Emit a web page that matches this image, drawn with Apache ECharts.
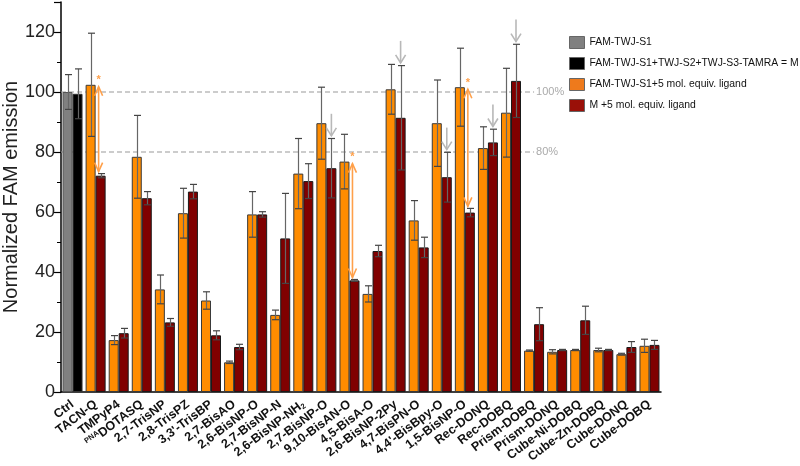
<!DOCTYPE html>
<html><head><meta charset="utf-8">
<script src="https://cdn.jsdelivr.net/npm/echarts@6/dist/echarts.min.js"></script>
<style>html,body{margin:0;padding:0;background:#fff}#c{width:800px;height:466px}</style>
</head><body><div id="c"></div>
<script>
const categories = ['Ctrl','TACN-Q','TMPyP4','PNA DOTASQ','2,7-TrisNP','2,8-TrisPZ',"3,3'-TrisBP",'2,7-BisAO','2,6-BisNP-O','2,7-BisNP-N','2,6-BisNP-NH2','2,7-BisNP-O','9,10-BisAN-O','4,5-BisA-O','2,6-BisNP-2Py','4,7-BisPN-O',"4,4'-BisBpy-O",'1,5-BisNP-O','Rec-DONQ','Rec-DOBQ','Prism-DOBQ','Prism-DONQ','Cube-Ni-DOBQ','Cube-Zn-DOBQ','Cube-DONQ','Cube-DOBQ'];
const seriesNames = ['FAM-TWJ-S1','FAM-TWJ-S1+TWJ-S2+TWJ-S3-TAMRA = M','FAM-TWJ-S1+5 mol. equiv. ligand','M +5 mol. equiv. ligand'];
// Ctrl only
const famValues = [100];
const famErr = [5.8];
const mValues = [99.4];
const mErr = [8.3];
// ligands (categories 1..25)
const ligValues = [102.4,17.3,78.4,34.2,59.6,30.5,9.9,59.2,25.7,72.8,89.6,76.8,32.7,100.9,57.2,89.6,101.6,81.3,93.1,13.8,13.4,14.0,14.0,12.6,15.4];
const ligErr    = [17.2,1.5,13.8,4.8,8.3,2.9,0.4,7.6,1.6,11.7,12.0,9.1,2.7,8.3,6.6,14.4,13.0,7.1,14.8,0.2,0.7,0.2,0.6,0.3,2.2];
const mLigValues = [72.1,19.6,64.6,23.2,66.8,18.9,15.0,59.2,51.2,70.3,74.6,37.2,47.0,91.4,48.2,71.6,59.8,83.2,103.7,22.6,14.0,23.9,14.0,15.0,15.7];
const mLigErr    = [0.7,1.6,2.2,1.3,2.4,1.5,0.9,0.9,15.0,5.8,9.9,0.3,1.9,17.4,3.4,8.3,1.4,4.4,12.2,5.5,0.2,4.7,0.2,1.8,1.5];
// annotations
const refLevels = [100, 80];
const refLabels = ['100%', '80%'];
const refEndCategory = 'Prism-DOBQ';
const grayArrowCategories = ['2,7-BisNP-O','2,6-BisNP-2Py',"4,4'-BisBpy-O",'Rec-DONQ','Rec-DOBQ'];
const sigCategories = ['TACN-Q','9,10-BisAN-O','1,5-BisNP-O'];

const FONT = 'Liberation Sans, Arial, sans-serif';
const BW = 10;
const pad = (arr) => categories.map((c,i)=> i===0 ? '-' : arr[i-1]);
const ctrlOnly = (arr) => categories.map((c,i)=> i===0 ? arr[0] : '-');

const famData = ctrlOnly(famValues);
const mData = ctrlOnly(mValues);
const ligData = pad(ligValues);
const mLigData = pad(mLigValues);

const errData = [];
errData.push([0, famValues[0], famErr[0], -1]);
errData.push([0, mValues[0], mErr[0], 1]);
for (let i = 0; i < ligValues.length; i++) {
  errData.push([i+1, ligValues[i], ligErr[i], -1]);
  errData.push([i+1, mLigValues[i], mLigErr[i], 1]);
}

const refData = refLevels.map((v,i)=>[categories.indexOf(refEndCategory), v, i]);
const grayArrowData = grayArrowCategories.map(c => {
  const i = categories.indexOf(c);
  return [i, mLigValues[i-1] + mLigErr[i-1]];
});
const sigData = sigCategories.map(c => {
  const i = categories.indexOf(c);
  return [i, ligValues[i-1], mLigValues[i-1] + mLigErr[i-1]];
});

function labelFmt(v) {
  if (v === 'PNA DOTASQ') return '{sup|PNA}{b|DOTASQ}';
  if (v === '2,6-BisNP-NH2') return '{b|2,6-BisNP-NH}{sub|2}';
  return '{b|' + v + '}';
}

const chart = echarts.init(document.getElementById('c'), null, {renderer: 'canvas'});
const barCommon = {type: 'bar', barWidth: BW, barGap: '0%', xAxisIndex: 0, z: 2};

chart.setOption({
  animation: false,
  textStyle: {fontFamily: FONT},
  grid: {left: 61, right: 139, top: 2, bottom: 74, containLabel: false, outerBoundsMode: 'none'},
  legend: {
    orient: 'vertical', left: 564, top: 31, itemWidth: 15, itemHeight: 12, itemGap: 8,
    textStyle: {fontFamily: FONT, fontSize: 10.4, color: '#111'},
    data: [
      {name: seriesNames[0], icon: 'rect', itemStyle: {color: '#808080', borderColor: '#666', borderWidth: 1}},
      {name: seriesNames[1], icon: 'rect', itemStyle: {color: '#000', borderColor: '#666', borderWidth: 1}},
      {name: seriesNames[2], icon: 'rect', itemStyle: {color: '#EE7A1C', borderColor: '#666', borderWidth: 1}},
      {name: seriesNames[3], icon: 'rect', itemStyle: {color: '#9A1008', borderColor: '#666', borderWidth: 1}}
    ]
  },
  xAxis: [{
    type: 'category', data: categories,
    axisLine: {lineStyle: {color: '#000', width: 1.5}},
    axisTick: {alignWithLabel: true, length: 7, lineStyle: {color: '#000', width: 1.2}},
    axisLabel: {
      interval: 0, rotate: 37, margin: 11, color: '#111', formatter: labelFmt,
      rich: {
        b: {fontFamily: FONT, fontWeight: 'bold', fontSize: 12.5, color: '#111'},
        sup: {fontFamily: FONT, fontWeight: 'bold', fontSize: 7.5, color: '#111', verticalAlign: 'top', padding: [0,0,6,0]},
        sub: {fontFamily: FONT, fontWeight: 'bold', fontSize: 7.5, color: '#111', padding: [6,0,0,0]}
      }
    },
    splitLine: {show: false}
  }, {
    type: 'category', data: categories, position: 'bottom', gridIndex: 0,
    axisLine: {show: false},
    axisTick: {length: 3, lineStyle: {color: '#000', width: 1}},
    axisLabel: {show: false}
  }],
  yAxis: {
    type: 'value', min: 0, max: 130, interval: 20,
    name: 'Normalized FAM emission', nameLocation: 'middle', nameGap: 40, nameMoveOverlap: false,
    nameTextStyle: {fontFamily: FONT, fontSize: 20, color: '#222'},
    axisLine: {show: true, lineStyle: {color: '#000', width: 1.5}},
    axisTick: {show: true, length: 7, lineStyle: {color: '#000', width: 1.2}},
    minorTick: {show: true, splitNumber: 2, length: 4, lineStyle: {color: '#000', width: 1}},
    axisLabel: {fontFamily: FONT, fontSize: 18, color: '#222', margin: 6,
      formatter: v => (v % 20 === 0 && v <= 120) ? String(v) : ''},
    splitLine: {show: false}
  },
  series: [
    Object.assign({}, barCommon, {name: seriesNames[0], stack: 'L', data: famData,
      itemStyle: {color: '#808080', borderColor: '#555', borderWidth: 1}}),
    Object.assign({}, barCommon, {name: seriesNames[1], stack: 'R', data: mData,
      itemStyle: {color: '#000', borderColor: '#333', borderWidth: 1}}),
    Object.assign({}, barCommon, {name: seriesNames[2], stack: 'L', data: ligData,
      itemStyle: {color: '#FF8C00', borderColor: '#3a3a3a', borderWidth: 1}}),
    Object.assign({}, barCommon, {name: seriesNames[3], stack: 'R', data: mLigData,
      itemStyle: {color: '#800000', borderColor: '#1a1a1a', borderWidth: 1}}),
    {
      type: 'custom', name: 'err', data: errData, z: 5, clip: false, silent: true,
      encode: {x: 0, y: 1},
      renderItem: function (params, api) {
        const idx = api.value(0), v = api.value(1), e = api.value(2), s = api.value(3);
        const c = api.coord([idx, v]);
        const x = Math.round(c[0] + s * BW / 2) + 0.5;
        const yt = api.coord([idx, v + e])[1];
        const yb = api.coord([idx, v - e])[1];
        const cw = 3.5;
        const stroke = {stroke: '#444', lineWidth: 1.2};
        return {type: 'group', children: [
          {type: 'line', shape: {x1: x, y1: yt, x2: x, y2: yb}, style: {stroke: '#666', lineWidth: 1.2}},
          {type: 'line', shape: {x1: x - cw, y1: yt, x2: x + cw, y2: yt}, style: stroke},
          {type: 'line', shape: {x1: x - cw, y1: yb, x2: x + cw, y2: yb}, style: stroke}
        ]};
      }
    },
    {
      type: 'custom', name: 'ref', data: refData, z: 1, clip: false, silent: true,
      encode: {x: 0, y: 1},
      renderItem: function (params, api) {
        const endIdx = api.value(0), v = api.value(1), k = api.value(2);
        const cw = api.size([1, 0])[0];
        const x0 = api.coord([0, v])[0] - cw / 2;
        const p = api.coord([endIdx, v]);
        return {type: 'group', children: [
          {type: 'line', shape: {x1: x0, y1: p[1], x2: p[0], y2: p[1]},
            style: {stroke: '#999', lineWidth: 1, lineDash: [5, 3]}},
          {type: 'text', style: {x: p[0] + 2, y: p[1], text: refLabels[k], fill: '#aaa',
            font: '11px ' + FONT, verticalAlign: 'middle', align: 'left'}}
        ]};
      }
    },
    {
      type: 'custom', name: 'grayArrows', data: grayArrowData, z: 6, clip: false, silent: true,
      encode: {x: 0, y: 1},
      renderItem: function (params, api) {
        const idx = api.value(0), v = api.value(1);
        const c = api.coord([idx, v + 0.9]);
        const x = c[0] + BW / 2;
        const yTip = c[1];
        const yTail = yTip - 22;
        const st = {stroke: '#b8b8b8', lineWidth: 1.6};
        return {type: 'group', children: [
          {type: 'line', shape: {x1: x, y1: yTail, x2: x, y2: yTip}, style: st},
          {type: 'polyline', shape: {points: [[x - 5, yTip - 8], [x, yTip], [x + 5, yTip - 8]]}, style: Object.assign({fill: 'none'}, st)}
        ]};
      }
    },
    {
      type: 'custom', name: 'sig', data: sigData, z: 6, clip: false, silent: true,
      encode: {x: 0, y: 1},
      renderItem: function (params, api) {
        const idx = api.value(0), top = api.value(1), bot = api.value(2);
        const c = api.coord([idx, top]);
        const x = c[0] + 3;
        const y1 = c[1] + 2;
        const y2 = api.coord([idx, bot])[1] - 2;
        const st = {stroke: '#FFA04A', lineWidth: 1.6, fill: 'none'};
        return {type: 'group', children: [
          {type: 'line', shape: {x1: x, y1: y1, x2: x, y2: y2}, style: st},
          {type: 'polyline', shape: {points: [[x - 4, y1 + 9], [x, y1], [x + 4, y1 + 9]]}, style: st},
          {type: 'polyline', shape: {points: [[x - 4, y2 - 9], [x, y2], [x + 4, y2 - 9]]}, style: st},
          {type: 'text', style: {x: x, y: y1 - 1, text: '*', fill: '#FFA04A', font: 'bold 11px ' + FONT, align: 'center', verticalAlign: 'bottom'}}
        ]};
      }
    }
  ]
});
</script></body></html>
